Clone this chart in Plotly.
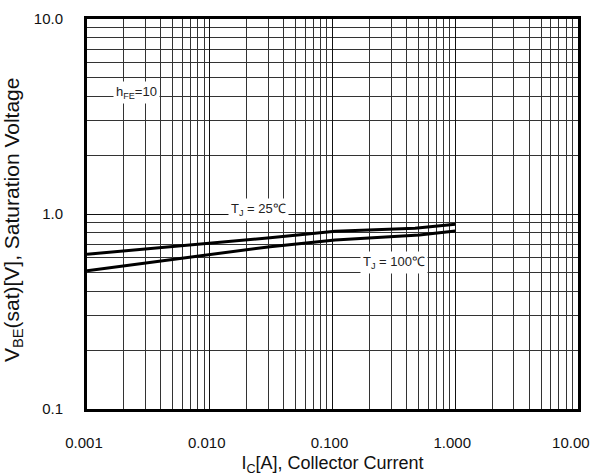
import plotly.graph_objects as go

# ---- data ----
ic_25 = [0.001, 0.01, 0.031, 0.105, 0.244, 0.47, 1.0]
vbe_25 = [0.621, 0.705, 0.756, 0.815, 0.828, 0.845, 0.885]

ic_100 = [0.001, 0.01, 0.031, 0.105, 0.244, 0.51, 1.0]
vbe_100 = [0.512, 0.621, 0.68, 0.736, 0.76, 0.78, 0.818]

x_tickvals = [0.001, 0.01, 0.1, 1, 10]
x_ticktext = ["0.001", "0.010", "0.100", "1.000", "10.00&nbsp;&nbsp;"]
y_tickvals = [0.1, 1, 10]
y_ticktext = ["0.1", "1.0", "10.0"]

x_minor = [m * 10 ** e for e in range(-3, 1) for m in range(2, 10)]
y_minor = [m * 10 ** e for e in range(-1, 1) for m in range(2, 10)]

FONT = "Liberation Sans, Arial, sans-serif"

fig = go.Figure()
fig.add_trace(go.Scatter(x=ic_25, y=vbe_25, mode="lines",
                         line=dict(color="black", width=3), showlegend=False))
fig.add_trace(go.Scatter(x=ic_100, y=vbe_100, mode="lines",
                         line=dict(color="black", width=3), showlegend=False))

axis_common = dict(
    type="log",
    automargin=False,
    showgrid=True, gridcolor="#111", gridwidth=1,
    showline=True, linecolor="black", linewidth=3, mirror=True,
    zeroline=False,
    ticks="", ticklabeloverflow="allow",
    tickfont=dict(family=FONT, size=15, color="#111"),
)

fig.update_xaxes(
    **axis_common,
    range=[-3, 1],
    tickmode="array", tickvals=x_tickvals, ticktext=x_ticktext,
    ticklabelstandoff=18, ticklabelshift=-3,
    minor=dict(tickmode="array", tickvals=x_minor, showgrid=True,
               gridcolor="#333", gridwidth=1, ticks=""),
    title=dict(text="I<sub>C</sub>[A], Collector Current",
               font=dict(family=FONT, size=18, color="#111"), standoff=10),
)
fig.update_yaxes(
    **axis_common,
    range=[-1, 1],
    tickmode="array", tickvals=y_tickvals, ticktext=y_ticktext,
    ticklabelstandoff=18,
    minor=dict(tickmode="array", tickvals=y_minor, showgrid=True,
               gridcolor="#333", gridwidth=1, ticks=""),
    title=dict(text="V<sub>BE</sub>(sat)[V], Saturation Voltage&nbsp;&nbsp;",
               font=dict(family=FONT, size=21, color="#111"), standoff=12),
)

ann_font = dict(family=FONT, size=13, color="#222")
fig.add_annotation(x=-2.6, y=0.625, xref="x", yref="y", text="h<sub>FE</sub>=10",
                   showarrow=False, bgcolor="white", font=ann_font, borderpad=2)
fig.add_annotation(x=-1.6, y=0.022, xref="x", yref="y", text="T<sub>J</sub> = 25℃",
                   showarrow=False, bgcolor="white", font=ann_font, borderpad=2)
fig.add_annotation(x=-0.5, y=-0.25, xref="x", yref="y", text="T<sub>J</sub> = 100℃",
                   showarrow=False, bgcolor="white", font=ann_font, borderpad=2)

fig.update_layout(
    width=591, height=476,
    margin=dict(l=87, r=13, t=19, b=67),
    paper_bgcolor="white", plot_bgcolor="white",
    font=dict(family=FONT),
)

fig.write_html("out.html",
               config={"displayModeBar": False},
               post_script="document.body.style.margin='0';document.body.style.overflow='hidden';")
